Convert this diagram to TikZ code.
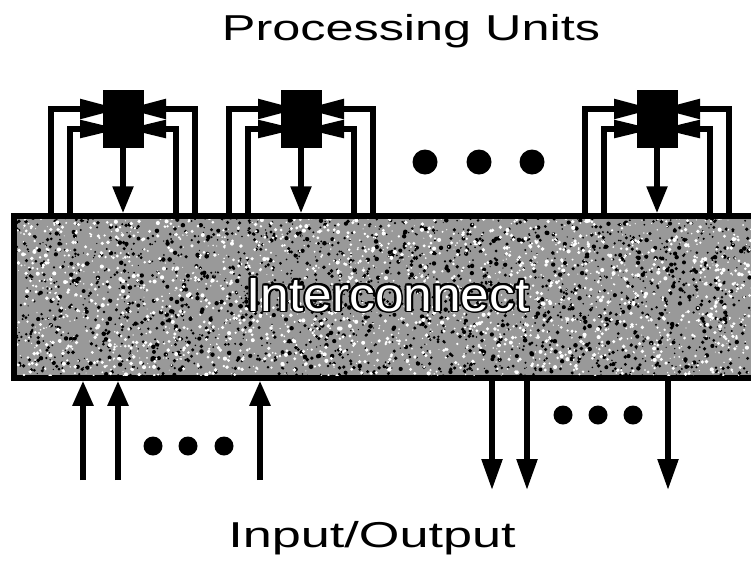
\documentclass[tikz,border=0pt]{standalone}
\usepackage{fontspec}
\setmainfont{Liberation Sans}
\usepackage{contour}
\contourlength{1.7pt}
\usetikzlibrary{arrows.meta,calc}
\pgfdeclarelayer{bg}
\pgfsetlayers{bg,main}
\begin{document}
\begin{tikzpicture}[x=1pt,y=-1pt,
  pu/.style={fill=black,minimum width=41pt,minimum height=58pt,inner sep=0pt,outer sep=0pt},
  wire/.style={line width=5.4pt},
  inarr/.style={wire,-{Triangle[length=40pt,width=19pt]}},
  outarr/.style={wire,-{Triangle[length=27pt,width=20pt]}},
  uparr/.style={wire,-{Triangle[length=25pt,width=20pt]}},
  downarr/.style={wire,-{Triangle[length=31pt,width=20pt]}},
  dot/.style={circle,fill=black,inner sep=0pt,minimum size=19pt},
  bigdot/.style={circle,fill=black,inner sep=0pt,minimum size=25pt},
  titletext/.style={font=\fontsize{36}{40}\selectfont,inner sep=0pt},
  ictext/.style={font=\fontsize{48}{52}\selectfont,inner sep=0pt},
  icbox/.style={fill=black!40,draw=black,line width=5.5pt,minimum width=790pt,minimum height=162pt,inner sep=0pt}
]
\useasboundingbox (0,0) rectangle (751,571);

% titles
\node[titletext,anchor=base] (t1) at (411,40) {\scalebox{1.4}[1]{Processing Units}};
\node[titletext,anchor=base] (t2) at (372,547) {\scalebox{1.45}[1]{Input/Output}};

% interconnect
\node[icbox] (ic) at (409,297) {};
\begin{scope}
  \clip (17,219) rectangle (751,375);
  \pgfmathsetseed{7}
  \foreach \i in {1,...,2200}{
    \fill[black] ({14+740*rnd},{216+162*rnd}) circle ({0.6+1.7*rnd});
  }
  \foreach \i in {1,...,2200}{
    \fill[white] ({14+740*rnd},{216+162*rnd}) circle ({0.5+1.6*rnd});
  }
\end{scope}
\node[ictext,anchor=base] (ict) at (388,311)
  {\color{white}\scalebox{1.07}[1]{\contour{black}{Interconnect}}};

% processing units
\foreach \c/\n in {123/1,301/2,657/3}{
  \node[pu] (p\n) at (\c,118.5) {};
  \coordinate (ol\n) at (\c-72,216);
  \coordinate (il\n) at (\c-53,216);
  \coordinate (ir\n) at (\c+53,216);
  \coordinate (or\n) at (\c+72,216);
  \coordinate (olt\n) at (\c-3,109);
  \coordinate (ilt\n) at (\c-3,129);
  \coordinate (irt\n) at (\c+3,129);
  \coordinate (ort\n) at (\c+3,109);
  \begin{pgfonlayer}{bg}
    \draw[inarr,line join=miter] (ol\n |- ic.north) |- (olt\n);
    \draw[inarr,-{Triangle[length=40pt,width=17pt]},line join=miter] (il\n |- ic.north) |- (ilt\n);
    \draw[inarr,-{Triangle[length=40pt,width=17pt]},line join=miter] (ir\n |- ic.north) |- (irt\n);
    \draw[inarr,line join=miter] (or\n |- ic.north) |- (ort\n);
  \end{pgfonlayer}
  \draw[outarr] (p\n.south) -- (p\n.south |- ic.north);
}

% dots between processing units
\node[bigdot] (pd1) at (425,162) {};
\node[bigdot] (pd2) at (479,162) {};
\node[bigdot] (pd3) at (532,162) {};

% inputs
\coordinate (in1) at (83,480);
\coordinate (in2) at (118,480);
\coordinate (in3) at (260,480);
\foreach \k in {1,2,3}{
  \draw[uparr] (in\k) -- (in\k |- ic.south);
}
\node[dot] (id1) at (153,446) {};
\node[dot] (id2) at (188,446) {};
\node[dot] (id3) at (224,446) {};

% outputs
\coordinate (out1) at (492,490);
\coordinate (out2) at (527,490);
\coordinate (out3) at (668,490);
\foreach \k in {1,2,3}{
  \draw[downarr] (out\k |- ic.south) -- (out\k);
}
\node[dot] (od1) at (563,415) {};
\node[dot] (od2) at (598,415) {};
\node[dot] (od3) at (633,415) {};
\end{tikzpicture}
\end{document}
